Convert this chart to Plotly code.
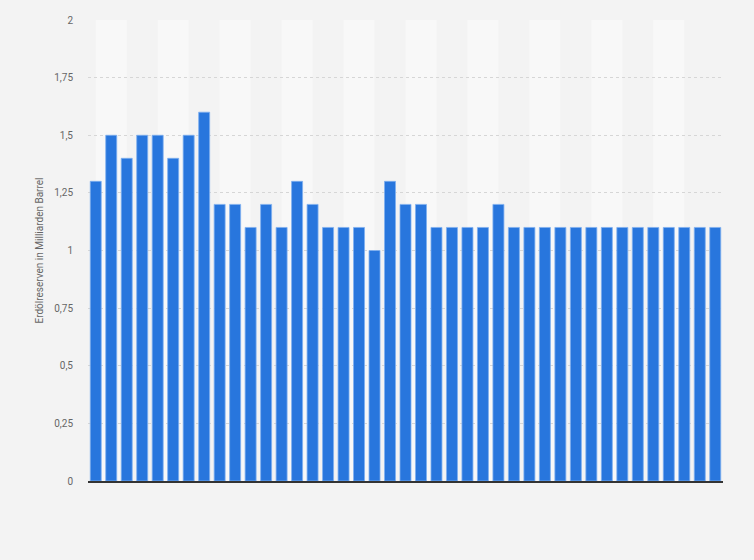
import plotly.graph_objects as go

years = [str(y) for y in range(1980, 2021)]
reserves = [1.3, 1.5, 1.4, 1.5, 1.5, 1.4, 1.5, 1.6, 1.2, 1.2,
            1.1, 1.2, 1.1, 1.3, 1.2, 1.1, 1.1, 1.1, 1.0, 1.3,
            1.2, 1.2, 1.1, 1.1, 1.1, 1.1, 1.2, 1.1, 1.1, 1.1,
            1.1, 1.1, 1.1, 1.1, 1.1, 1.1, 1.1, 1.1, 1.1, 1.1, 1.1]
y_ticks = [0, 0.25, 0.5, 0.75, 1, 1.25, 1.5, 1.75, 2]
y_tick_labels = ["0", "0,25", "0,5", "0,75", "1", "1,25", "1,5", "1,75", "2"]

fig = go.Figure()
fig.add_trace(go.Bar(
    x=years, y=reserves,
    marker=dict(color="#2876dd", line=dict(color="#7fb0f0", width=0.8)),
    hoverinfo="x+y",
))

shapes = []
n = len(years)
for i in range(0, n - 2, 4):
    shapes.append(dict(type="rect", xref="x", yref="paper", x0=i, x1=i + 2,
                       y0=0, y1=1, fillcolor="#f8f8f8", line=dict(width=0),
                       layer="below"))
fig.update_layout(
    width=754, height=560,
    margin=dict(l=88, r=31, t=20, b=79),
    paper_bgcolor="#f3f3f3", plot_bgcolor="#f3f3f3",
    bargap=0.29, showlegend=False,
    shapes=shapes,
    font=dict(family="Roboto, Arial, sans-serif", size=10, color="#666"),
)
fig.update_xaxes(showticklabels=False, showgrid=False, ticks="",
                 showline=True, linecolor="#333", linewidth=1.5,
                 range=[-0.5, n - 0.5])
fig.update_yaxes(range=[0, 2], tickvals=y_ticks, ticktext=y_tick_labels,
                 showgrid=True, gridcolor="#d6d6d6", griddash="dot", gridwidth=1,
                 zeroline=False, ticks="", ticklabelstandoff=14,
                 tickfont=dict(size=10, color="#666"),
                 title=dict(text="Erdölreserven in Milliarden Barrel",
                            font=dict(size=10, color="#666"), standoff=8))
fig.write_html("out.html", config={"displayModeBar": False},
               post_script="document.body.style.margin='0';document.body.style.background='#f3f3f3';")
